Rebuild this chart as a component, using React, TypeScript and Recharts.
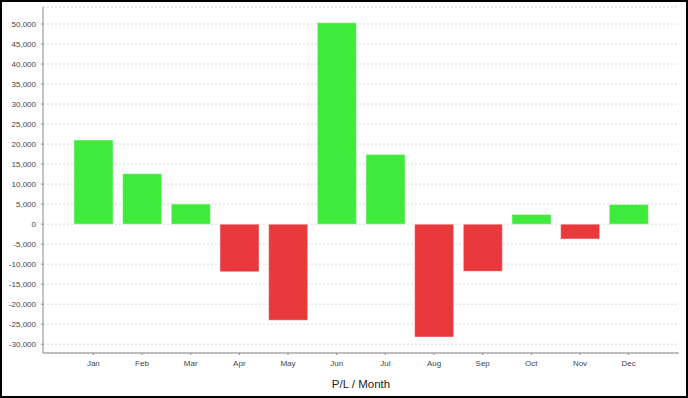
import { BarChart, Bar, XAxis, YAxis, CartesianGrid, Cell, Label } from 'recharts';

const months = ['Jan', 'Feb', 'Mar', 'Apr', 'May', 'Jun', 'Jul', 'Aug', 'Sep', 'Oct', 'Nov', 'Dec'];
const profitLoss = [21000, 12600, 5000, -11900, -24000, 50300, 17400, -28200, -11800, 2400, -3700, 4900];
const yTicks = [-30000, -25000, -20000, -15000, -10000, -5000, 0, 5000, 10000, 15000, 20000, 25000, 30000, 35000, 40000, 45000, 50000];

const GREEN = '#3eea3c';
const RED = '#e8393d';
const fmtNum = (n: number) => n.toLocaleString('en-US');

const data = months.map((m, i) => ({ month: m, pl: profitLoss[i] }));
const tickStyle = { fontFamily: '"Liberation Sans", Arial, sans-serif', fontSize: 8, fill: '#444' };

export default function App() {
  return (
    <div style={{ position: 'absolute', left: 0, top: 0, width: 688, height: 398, background: '#fff' }}>
      <BarChart width={688} height={398} data={data} barCategoryGap={5}
                margin={{ top: 7, right: 9, bottom: 0, left: 0 }}>
        <CartesianGrid stroke="#d8d8d8" strokeDasharray="2 2" vertical={false} />
        <XAxis dataKey="month" height={45} tick={tickStyle} tickSize={2} tickMargin={5}
               stroke="#888" padding={{ left: 26, right: 26 }} interval={0}>
          <Label value="P/L / Month" position="insideBottom" offset={10}
                 style={{ fontFamily: '"Liberation Sans", Arial, sans-serif', fontSize: 11.5, fill: '#222' }} />
        </XAxis>
        <XAxis xAxisId="top" dataKey="month" orientation="top" height={0} tick={false}
               tickLine={false} stroke="#c4c4c4" />
        <YAxis domain={[-32200, 54250]} ticks={yTicks} tickFormatter={fmtNum} width={43}
               tick={tickStyle} tickSize={2} tickMargin={5} stroke="#888" interval={0} />
        <YAxis yAxisId="right" orientation="right" width={0} tick={false} tickLine={false}
               stroke="#c4c4c4" domain={[0, 1]} />
        <Bar dataKey="pl" isAnimationActive={false} stroke="#ffffff" strokeOpacity={0.4} strokeWidth={1}>
          {data.map((d) => (
            <Cell key={d.month} fill={d.pl >= 0 ? GREEN : RED} />
          ))}
        </Bar>
      </BarChart>
      <div style={{ position: 'absolute', inset: 0, border: '2px solid #000', pointerEvents: 'none' }} />
    </div>
  );
}
